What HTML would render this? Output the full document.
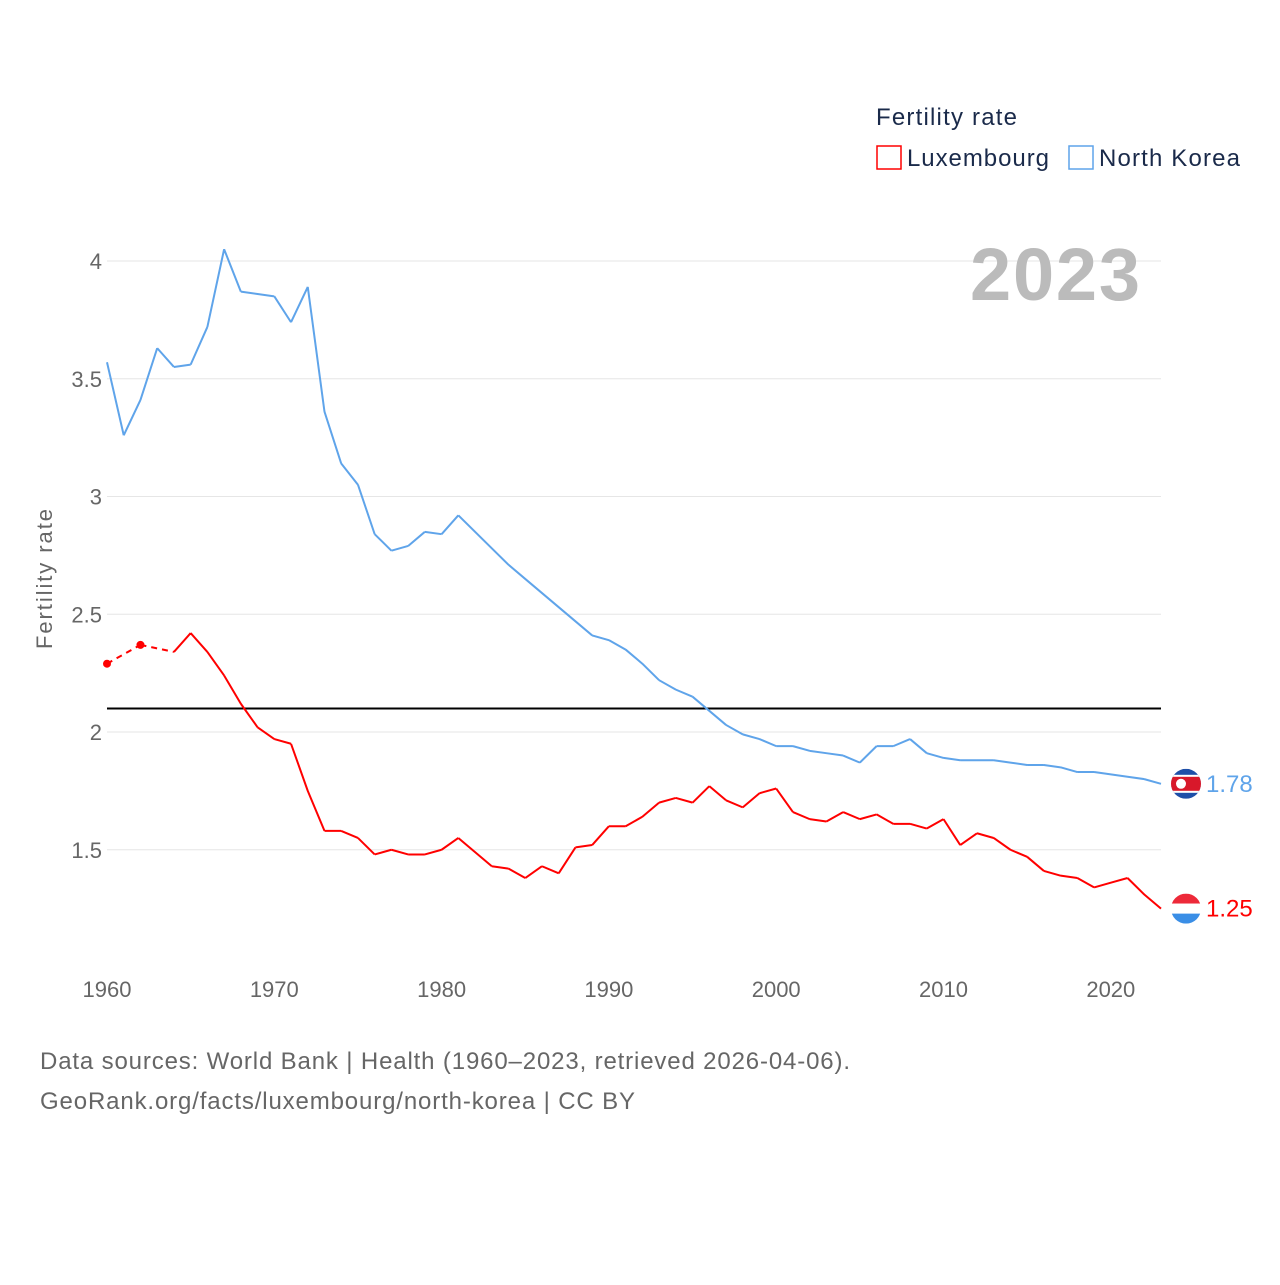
<!DOCTYPE html>
<html><head><meta charset="utf-8">
<style>
body{margin:0;background:#fff;font-family:"Liberation Sans",sans-serif;}
svg text{font-family:"Liberation Sans",sans-serif;}
</style></head>
<body>
<svg id="chart" width="1280" height="1280" xmlns="http://www.w3.org/2000/svg">
<g id="grid"></g>
<g id="ticks"></g>
<text x="52" y="579" transform="rotate(-90 52 579)" text-anchor="middle" font-size="22" fill="#666" textLength="140">Fertility rate</text>
<text x="970" y="300" font-size="74" font-weight="bold" fill="#bbb" textLength="170">2023</text>
<g>
<text x="876" y="125" font-size="24" fill="#1a2a4a" textLength="141">Fertility rate</text>
<rect x="877" y="146" width="24" height="23" fill="none" stroke="#f00" stroke-width="1.5"/>
<text x="907" y="166" font-size="24" fill="#1a2a4a" textLength="142">Luxembourg</text>
<rect x="1069" y="146" width="24" height="23" fill="none" stroke="#5fa4ea" stroke-width="1.5"/>
<text x="1099" y="166" font-size="24" fill="#1a2a4a" textLength="141">North Korea</text>
</g>
<g id="series"></g>
<text x="40" y="1069" font-size="24" fill="#666" textLength="810">Data sources: World Bank | Health (1960–2023, retrieved 2026-04-06).</text>
<text x="40" y="1109" font-size="24" fill="#666" textLength="595">GeoRank.org/facts/luxembourg/north-korea | CC BY</text>
</svg>
<script>
const years=[];for(let y=1960;y<=2023;y++)years.push(y);
const yTicks=[1.5,2,2.5,3,3.5,4];
const xTicks=[1960,1970,1980,1990,2000,2010,2020];
const referenceLevel=2.1;
const northKorea=[3.57,3.26,3.41,3.63,3.55,3.56,3.72,4.05,3.87,3.86,3.85,3.74,3.89,3.36,3.14,3.05,2.84,2.77,2.79,2.85,2.84,2.92,2.85,2.78,2.71,2.65,2.59,2.53,2.47,2.41,2.39,2.35,2.29,2.22,2.18,2.15,2.09,2.03,1.99,1.97,1.94,1.94,1.92,1.91,1.90,1.87,1.94,1.94,1.97,1.91,1.89,1.88,1.88,1.88,1.87,1.86,1.86,1.85,1.83,1.83,1.82,1.81,1.80,1.78];
const luxembourg=[2.29,null,2.37,null,2.34,2.42,2.34,2.24,2.12,2.02,1.97,1.95,1.75,1.58,1.58,1.55,1.48,1.50,1.48,1.48,1.50,1.55,1.49,1.43,1.42,1.38,1.43,1.40,1.51,1.52,1.60,1.60,1.64,1.70,1.72,1.70,1.77,1.71,1.68,1.74,1.76,1.66,1.63,1.62,1.66,1.63,1.65,1.61,1.61,1.59,1.63,1.52,1.57,1.55,1.50,1.47,1.41,1.39,1.38,1.34,1.36,1.38,1.31,1.25];
const NS='http://www.w3.org/2000/svg';
const X=y=>107+(y-1960)*(1161-107)/63;
const Y=v=>732-(v-2)*235.5;
function mk(tag,attrs,parent){const e=document.createElementNS(NS,tag);for(const k in attrs)e.setAttribute(k,attrs[k]);parent.appendChild(e);return e;}
const grid=document.getElementById('grid'),ticks=document.getElementById('ticks'),series=document.getElementById('series');
yTicks.forEach(v=>{
 const l=mk('line',{x1:107,x2:1161,y1:Y(v),y2:Y(v),stroke:'#e6e6e6','stroke-width':1},grid);
 
 
 const t=mk('text',{x:102,y:Y(v)+8,'text-anchor':'end','font-size':22,fill:'#666'},ticks);
 t.textContent=String(v);
 
 
});
xTicks.forEach(v=>{
 const t=mk('text',{x:X(v),y:997,'text-anchor':'middle','font-size':22,fill:'#666'},ticks);
 t.textContent=String(v);
 
 
});
const ref=mk('line',{x1:107,x2:1161,y1:Y(referenceLevel),y2:Y(referenceLevel),stroke:'#000','stroke-width':2},series);


function draw(vals,color,name){
 let solid='',dashed='';let prev=-1;
 vals.forEach((v,i)=>{if(v==null)return;
  if(prev>=0){const seg=`M${X(years[prev])},${Y(vals[prev])}L${X(years[i])},${Y(v)}`;
   if(i-prev===1)solid+=seg;else dashed+=seg;}
  prev=i;});
 const p=mk('path',{d:solid,fill:'none',stroke:color,'stroke-width':2,'stroke-linejoin':'round'},series);
 
 
 if(dashed){const d=mk('path',{d:dashed,fill:'none',stroke:color,'stroke-width':2,'stroke-dasharray':'6,5'},series);
  
  }
 vals.forEach((v,i)=>{if(v==null)return;
  const a=vals[i-1],b=vals[i+1];
  if((i===0||a==null)&&(i===vals.length-1||b==null)){
   const c=mk('circle',{cx:X(years[i]),cy:Y(v),r:4,fill:color},series);
   
   }});
 const last=vals[vals.length-1];
 const lx=X(years[years.length-1])+25,ly=Y(last);
 const g=mk('g',{},series);
 
 
 const clip=mk('clipPath',{id:'c'+name},g);mk('circle',{cx:lx,cy:ly,r:15},clip);
 const fg=mk('g',{'clip-path':`url(#c${name})`},g);
 if(name==='luxembourg'){
  mk('rect',{x:lx-15,y:ly-15,width:30,height:10,fill:'#ed2939'},fg);
  mk('rect',{x:lx-15,y:ly-5,width:30,height:10,fill:'#fff'},fg);
  mk('rect',{x:lx-15,y:ly+5,width:30,height:10,fill:'#3a8ee6'},fg);
 }else{
  mk('rect',{x:lx-15,y:ly-15,width:30,height:30,fill:'#1e4fa8'},fg);
  mk('rect',{x:lx-15,y:ly-9,width:30,height:18,fill:'#fff'},fg);
  mk('rect',{x:lx-15,y:ly-7,width:30,height:14,fill:'#d8182a'},fg);
  mk('circle',{cx:lx-5,cy:ly,r:5,fill:'#fff'},fg);
 }
 const t=mk('text',{x:lx+20,y:ly+8,'font-size':24,fill:color},series);
 t.textContent=last.toFixed(2);
 
 
}
draw(northKorea,'#5fa4ea','north-korea');
draw(luxembourg,'#f00','luxembourg');
</script>
</body></html>
